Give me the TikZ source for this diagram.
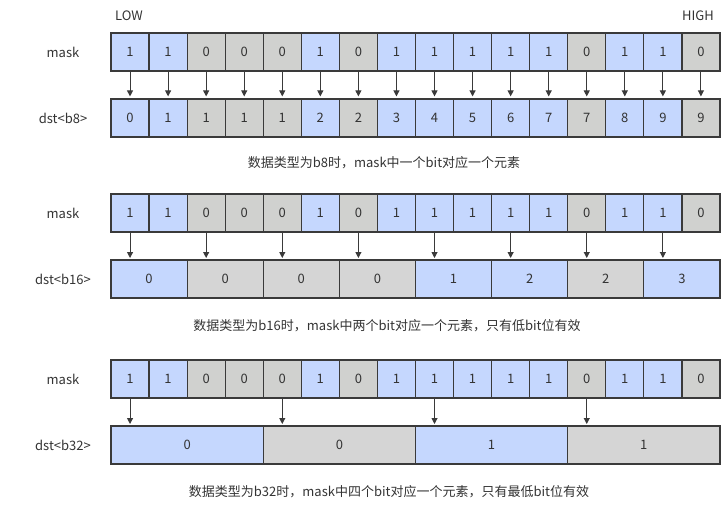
\documentclass[tikz,border=0pt]{standalone}
\usepackage{fontspec}
\setmainfont{Noto Sans CJK SC}
\usetikzlibrary{arrows.meta}
\definecolor{cblue}{HTML}{C5D7FE}
\definecolor{cgray}{HTML}{D0D1CF}
\definecolor{dgray}{HTML}{D5D5D5}
\definecolor{edge}{HTML}{3A3A3A}
\definecolor{txt}{HTML}{333333}
\tikzset{
  cell/.style={draw=edge, line width=1.2pt, inner sep=0pt, minimum height=38pt, text=txt, font=\fontsize{13}{15}\selectfont, anchor=center},
  lbl/.style={text=txt, font=\fontsize{13}{15}\selectfont, inner sep=0pt},
  captext/.style={text=txt, font=\fontsize{13}{15}\selectfont, inner sep=0pt},
  arr/.style={draw=edge, line width=1pt, -{Triangle[length=6pt,width=6pt]}, shorten >=2pt}
}
\begin{document}
\begin{tikzpicture}[x=1pt,y=-1pt]
\useasboundingbox (0,0) rectangle (726,520);
\def\cw{38.06}
\node[lbl] (low) at (129,16) {LOW};
\node[lbl] (high) at (698,16) {HIGH};
\foreach \r/\my in {1/52, 2/213, 3/379}{
  \node[lbl] (mlab\r) at (63,\my) {mask};
  \foreach \v [count=\i from 0] in {1,1,0,0,0,1,0,1,1,1,1,1,0,1,1,0}{
    \ifnum\v=1 \def\fc{cblue}\else\def\fc{cgray}\fi
    \node[cell, fill=\fc, minimum width=\cw pt] (m\r-\i) at ({111+\cw*\i+\cw/2},\my) {\v};
  }
}
% dst b8
\node[lbl] (dlab1) at (63,118) {dst<b8>};
\foreach \v/\b [count=\i from 0] in {0/1,1/1,1/0,1/0,1/0,2/1,2/0,3/1,4/1,5/1,6/1,7/1,7/0,8/1,9/1,9/0}{
  \ifnum\b=1 \def\fc{cblue}\else\def\fc{cgray}\fi
  \node[cell, fill=\fc, minimum width=\cw pt] (d1-\i) at ({111+\cw*\i+\cw/2},118) {\v};
  \draw[arr] (m1-\i.south) -- (d1-\i.north);
}
\node[captext] (cap1) at (384,163) {数据类型为b8时，mask中一个bit对应一个元素};
% dst b16
\node[lbl] (dlab2) at (63,279) {dst<b16>};
\foreach \v/\b [count=\i from 0] in {0/1,0/0,0/0,0/0,1/1,2/1,2/0,3/1}{
  \ifnum\b=1 \def\fc{cblue}\else\def\fc{dgray}\fi
  \node[cell, fill=\fc, minimum width=2*\cw pt] (d2-\i) at ({111+2*\cw*\i+\cw},279) {\v};
  \pgfmathtruncatemacro{\src}{2*\i}
  \coordinate (t2-\i) at ({111+2*\cw*\i+\cw/2},260);
  \draw[arr] (m2-\src.south) -- (t2-\i);
}
\node[captext] (cap2) at (387,326) {数据类型为b16时，mask中两个bit对应一个元素，只有低bit位有效};
% dst b32
\node[lbl] (dlab3) at (63,445) {dst<b32>};
\foreach \v/\b [count=\i from 0] in {0/1,0/0,1/1,1/0}{
  \ifnum\b=1 \def\fc{cblue}\else\def\fc{dgray}\fi
  \node[cell, fill=\fc, minimum width=4*\cw pt] (d3-\i) at ({111+4*\cw*\i+2*\cw},445) {\v};
  \pgfmathtruncatemacro{\src}{4*\i}
  \coordinate (t3-\i) at ({111+4*\cw*\i+\cw/2},426);
  \draw[arr] (m3-\src.south) -- (t3-\i);
}
\node[captext] (cap3) at (389,492) {数据类型为b32时，mask中四个bit对应一个元素，只有最低bit位有效};
\end{tikzpicture}
\end{document}
